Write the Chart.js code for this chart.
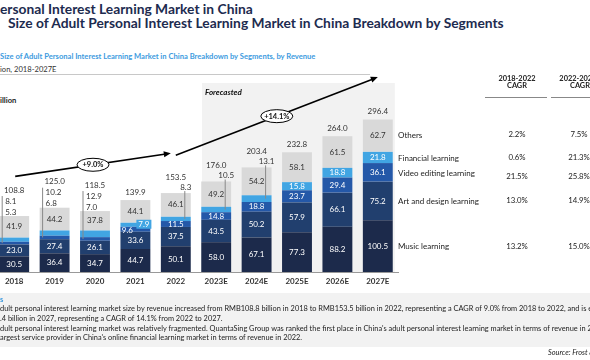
<!DOCTYPE html>
<html>
<head>
<meta charset="utf-8">
<script src="https://cdn.jsdelivr.net/npm/chart.js@4"></script>
<style>
  body { margin: 0; width: 590px; height: 360px; overflow: hidden; background: #fff; font-family: Lato, sans-serif; position: relative; }
  .t { position: absolute; white-space: nowrap; line-height: 1; }
  .title { font-weight: bold; font-size: 13.8px; color: #1d2b4f; }
  .sub { font-weight: bold; font-size: 7.6px; color: #3d9be0; }
  .small { font-size: 7.6px; color: #333; }
  .leg { font-size: 8px; color: #222; }
  .hd { font-size: 7.4px; font-weight: bold; color: #222; text-align: center; width: 70px; }
  .val { font-size: 7.8px; color: #222; text-align: center; width: 40px; }
  .note { font-size: 7.4px; color: #222; }
  #wrap { position: absolute; left: -6px; top: 0; width: 596px; height: 360px; }
</style>
</head>
<body>
<div class="t title" style="left:0;top:2px">ersonal Interest Learning Market in China</div>
<div class="t title" style="left:8px;top:16px">Size of Adult Personal Interest Learning Market in China Breakdown by Segments</div>
<div class="t sub" style="left:0;top:53px">Size of Adult Personal Interest Learning Market in China Breakdown by Segments, by Revenue</div>
<div class="t small" style="left:0;top:66px">ion, 2018-2027E</div>
<div style="position:absolute;left:0;top:74px;width:370px;height:1px;background:#c8c8c8"></div>
<div class="t small" style="left:0;top:97px;font-weight:bold;color:#222">illion</div>

<div id="wrap"><canvas id="myChart"></canvas></div>

<div class="t hd" style="left:482px;top:75px">2018-2022<br>CAGR</div>
<div class="t hd" style="left:545px;top:75px">2022-2027E<br>CAGR</div>
<div style="position:absolute;left:485px;top:97px;width:62px;height:1px;background:#888"></div>
<div style="position:absolute;left:551px;top:97px;width:45px;height:1px;background:#888"></div>

<div class="t leg" style="left:398px;top:131px">Others</div>
<div class="t leg" style="left:398px;top:154px">Financial learning</div>
<div class="t leg" style="left:398px;top:169px">Video editing learning</div>
<div class="t leg" style="left:398px;top:197px">Art and design learning</div>
<div class="t leg" style="left:398px;top:242px">Music learning</div>

<div class="t val" style="left:497px;top:131px">2.2%</div>
<div class="t val" style="left:497px;top:154px">0.6%</div>
<div class="t val" style="left:497px;top:173px">21.5%</div>
<div class="t val" style="left:497px;top:197px">13.0%</div>
<div class="t val" style="left:497px;top:243px">13.2%</div>
<div class="t val" style="left:559px;top:131px">7.5%</div>
<div class="t val" style="left:559px;top:154px">21.3%</div>
<div class="t val" style="left:559px;top:173px">25.8%</div>
<div class="t val" style="left:559px;top:197px">14.9%</div>
<div class="t val" style="left:559px;top:243px">15.0%</div>

<div style="position:absolute;left:0;top:293px;width:590px;height:54px;background:#f2f2f2"></div>
<div class="t sub" style="left:0;top:296px">s</div>
<div class="t note" style="left:0;top:305px">dult personal interest learning market size by revenue increased from RMB108.8 billion in 2018 to RMB153.5 billion in 2022, representing a CAGR of 9.0% from 2018 to 2022, and is expected</div>
<div class="t note" style="left:0;top:315px">.4 billion in 2027, representing a CAGR of 14.1% from 2022 to 2027.</div>
<div class="t note" style="left:0;top:325px">dult personal interest learning market was relatively fragmented. QuantaSing Group was ranked the first place in China's adult personal interest learning market in terms of revenue in 2022</div>
<div class="t note" style="left:0;top:334px">argest service provider in China's online financial learning market in terms of revenue in 2022.</div>
<div class="t note" style="left:548px;top:349px;font-style:italic">Source: Frost &amp; Sullivan</div>

<script>
// RMB billion
const years = ['2018', '2019', '2020', '2021', '2022', '2023E', '2024E', '2025E', '2026E', '2027E'];
const music = [30.5, 36.4, 34.7, 44.7, 50.1, 58.0, 67.1, 77.3, 88.2, 100.5];
const artDesign = [23.0, 27.4, 26.1, 33.6, 37.5, 43.5, 50.2, 57.9, 66.1, 75.2];
const videoEditing = [5.3, 6.8, 7.0, 9.6, 11.5, 14.8, 18.8, 23.7, 29.4, 36.1];
const financial = [8.1, 10.2, 12.9, 7.9, 8.3, 10.5, 13.1, 15.8, 18.8, 21.8];
const others = [41.9, 44.2, 37.8, 44.1, 46.1, 49.2, 54.2, 58.1, 61.5, 62.7];
const totals = [108.8, 125.0, 118.5, 139.9, 153.5, 176.0, 203.4, 232.8, 264.0, 296.4];
// where the small segment labels go
const smallLabelMode = ['left', 'left', 'left', 'split', 'right', 'right', 'right', 'inside', 'inside', 'inside'];
const cagrArrows = [
    { from: 0, to: 4, v0: 186, v1: 231, text: '+9.0%' },
    { from: 4, to: 9, v0: 227, v1: 379, text: '+14.1%' }
];
const forecastStart = 5;

const colors = ['#1c2a4b', '#213f6e', '#2458a8', '#41a5e3', '#d9d9d9'];
const font = 'Lato, sans-serif';

function arrow(ctx, x0, y0, x1, y1) {
    ctx.save();
    ctx.strokeStyle = '#000';
    ctx.fillStyle = '#000';
    ctx.lineWidth = 1.6;
    let a = Math.atan2(y1 - y0, x1 - x0);
    ctx.beginPath();
    ctx.moveTo(x0, y0);
    ctx.lineTo(x1 - 5 * Math.cos(a), y1 - 5 * Math.sin(a));
    ctx.stroke();
    ctx.beginPath();
    ctx.moveTo(x1, y1);
    ctx.lineTo(x1 - 7 * Math.cos(a) + 3 * Math.sin(a), y1 - 7 * Math.sin(a) - 3 * Math.cos(a));
    ctx.lineTo(x1 - 7 * Math.cos(a) - 3 * Math.sin(a), y1 - 7 * Math.sin(a) + 3 * Math.cos(a));
    ctx.closePath();
    ctx.fill();
    ctx.restore();
}

const extras = {
    id: 'extras',
    beforeDatasetsDraw(chart) {
        const ctx = chart.ctx, x = chart.scales.x, area = chart.chartArea;
        let x0 = (x.getPixelForValue(forecastStart - 1) + x.getPixelForValue(forecastStart)) / 2 + 6;
        let x1 = x.getPixelForValue(years.length - 1) + 17;
        ctx.save();
        ctx.fillStyle = '#f2f2f2';
        ctx.fillRect(x0, area.top - 9, x1 - x0, area.bottom - area.top + 9);
        ctx.fillStyle = '#111';
        ctx.font = 'italic bold 8px ' + font;
        ctx.textBaseline = 'middle';
        ctx.fillText('Forecasted', x0 + 3, area.top);
        ctx.restore();
    },
    afterDatasetsDraw(chart) {
        const ctx = chart.ctx, x = chart.scales.x, y = chart.scales.y;
        ctx.save();
        ctx.font = '8px ' + font;
        ctx.textBaseline = 'middle';
        ctx.textAlign = 'center';
        years.forEach((yr, i) => {
            const mode = smallLabelMode[i];
            const bars = chart.data.datasets.map((d, k) => chart.getDatasetMeta(k).data[i]);
            const cx = x.getPixelForValue(i);
            const top = y.getPixelForValue(totals[i]);
            const mid = (b) => (b.y + b.base) / 2;
            // big segments
            [0, 1, 4].forEach(k => {
                ctx.fillStyle = k === 4 ? '#333' : '#fff';
                ctx.fillText(chart.data.datasets[k].data[i].toFixed(1), cx, mid(bars[k]));
            });
            ctx.fillStyle = '#333';
            if (mode === 'left') {
                ctx.fillText(totals[i].toFixed(1), cx, top - 26);
                ctx.textAlign = 'left';
                ctx.fillText(financial[i].toFixed(1), cx - 9, top - 15);
                ctx.fillText(videoEditing[i].toFixed(1), cx - 9, top - 4);
                ctx.textAlign = 'center';
                ctx.strokeStyle = '#888';
                ctx.lineWidth = 1;
                ctx.beginPath();
                ctx.moveTo(cx - 12, top - 20);
                ctx.lineTo(cx - 12, mid(bars[2]));
                ctx.stroke();
            } else if (mode === 'right') {
                ctx.fillText(totals[i].toFixed(1), cx, top - 16);
                ctx.strokeStyle = '#888';
                ctx.lineWidth = 1;
                ctx.beginPath();
                ctx.moveTo(cx + 9, top - 2);
                ctx.lineTo(cx + 9, mid(bars[3]));
                ctx.stroke();
                ctx.fillText(financial[i].toFixed(1), cx + 10, top - 6);
                ctx.fillStyle = '#fff';
                ctx.fillText(videoEditing[i].toFixed(1), cx, mid(bars[2]));
            } else if (mode === 'split') {
                ctx.fillText(totals[i].toFixed(1), cx, top - 8);
                ctx.fillStyle = colors[3];
                ctx.fillRect(cx + 1, mid(bars[3]) - 5, 15, 9);
                ctx.fillStyle = '#fff';
                ctx.fillText(financial[i].toFixed(1), cx + 8.5, mid(bars[3]));
                ctx.fillText(videoEditing[i].toFixed(1), cx - 8, mid(bars[2]) + 1);
            } else {
                ctx.fillText(totals[i].toFixed(1), cx, top - 8);
                ctx.fillStyle = '#fff';
                ctx.fillText(financial[i].toFixed(1), cx, mid(bars[3]));
                ctx.fillText(videoEditing[i].toFixed(1), cx, mid(bars[2]));
            }
        });
        // CAGR arrows
        cagrArrows.forEach((c, j) => {
            let x0 = x.getPixelForValue(c.from) + (j === 0 ? 1 : 0);
            let x1 = x.getPixelForValue(c.to) - (j === 0 ? 5 : 0);
            let y0 = y.getPixelForValue(c.v0), y1 = y.getPixelForValue(c.v1);
            arrow(ctx, x0, y0, x1, y1);
            let mx = (x0 + x1) / 2, my = (y0 + y1) / 2;
            ctx.fillStyle = '#fff';
            ctx.strokeStyle = '#000';
            ctx.lineWidth = 1;
            ctx.beginPath();
            ctx.ellipse(mx, my, 16, 6.5, 0, 0, Math.PI * 2);
            ctx.fill();
            ctx.stroke();
            ctx.fillStyle = '#111';
            ctx.font = 'bold 7.5px ' + font;
            ctx.textAlign = 'center';
            ctx.fillText(c.text, mx, my);
        });
        ctx.restore();
    }
};

const segNames = ['Music learning', 'Art and design learning', 'Video editing learning', 'Financial learning', 'Others'];
const segData = [music, artDesign, videoEditing, financial, others];

var ctx = document.getElementById('myChart');
var myChart = new Chart(ctx, {
    type: 'bar',
    data: {
        labels: years,
        datasets: segData.map((d, k) => ({
            label: segNames[k],
            data: d,
            backgroundColor: colors[k],
            borderWidth: 0,
            barPercentage: 0.74,
            categoryPercentage: 1
        }))
    },
    options: {
        responsive: true,
        maintainAspectRatio: false,
        animation: false,
        layout: { padding: { left: 0, right: 192, top: 92, bottom: 72 } },
        plugins: { legend: { display: false }, tooltip: { enabled: false } },
        scales: {
            x: {
                stacked: true,
                grid: { display: false, drawTicks: false },
                border: { color: '#999' },
                ticks: { color: '#333', font: { family: font, size: 8, weight: 'bold' }, padding: 5 },
                afterFit: (s) => { s.height = 16; }
            },
            y: {
                stacked: true,
                display: false,
                min: 0,
                max: 350
            }
        }
    },
    plugins: [extras]
});
</script>
</body>
</html>
